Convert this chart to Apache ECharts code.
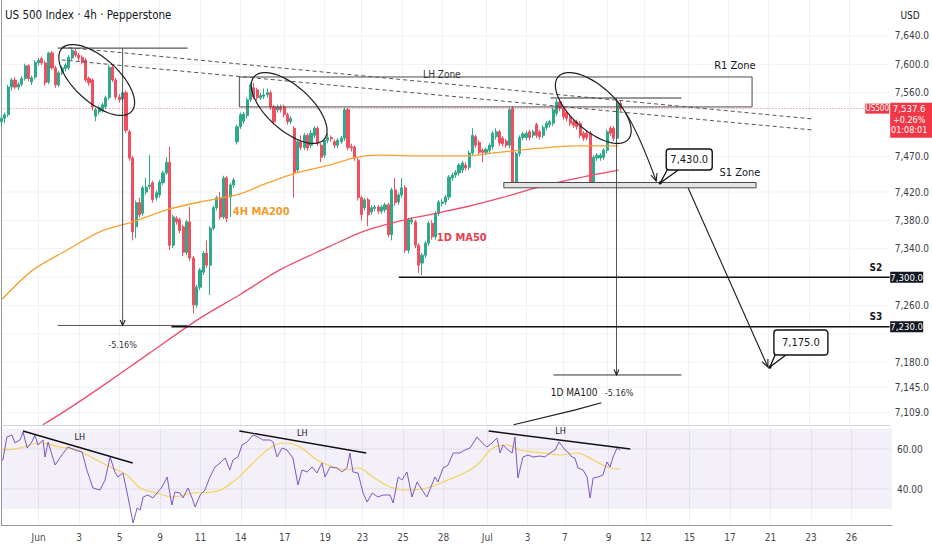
<!DOCTYPE html>
<html><head><meta charset="utf-8">
<script src="https://cdn.jsdelivr.net/npm/echarts@6/dist/echarts.min.js"></script>
<style>html,body{margin:0;padding:0;background:#fff}#c{width:932px;height:550px}</style>
</head><body><div id="c"></div>
<script>
const FONT = '"Liberation Sans Narrow","DejaVu Sans Condensed","Liberation Sans",Arial,sans-serif';

// ---------- DATA ----------
const titleText = 'US 500 Index · 4h · Pepperstone';
const currency = 'USD';
const symbolTag = 'US500';
const lastPrice = 7537.6;
const changePct = '+0.26%';
const countdown = '01:08:01';
const slotCount = 265; // bar slots shown on the time axis (incl. empty future space)

// 4h candles: [open, close, low, high]
const candles = [
[7519,7524,7512,7527],[7524,7529,7517,7532],[7529,7568,7526,7571],[7568,7578,7563,7581],[7578,7568,7565,7582],
[7568,7572,7564,7575],[7572,7580,7569,7583],[7580,7598,7577,7601],[7598,7580,7576,7600],[7575,7581,7571,7584],
[7582,7603,7579,7606],[7602,7606,7598,7609],[7608,7602,7599,7611],[7602,7574,7570,7605],[7575,7616,7572,7618],
[7616,7595,7592,7619],[7595,7571,7567,7598],[7571,7588,7568,7591],[7588,7595,7585,7598],[7594,7599,7590,7602],
[7595,7610,7592,7613],[7609,7620,7606,7623],[7618,7613,7610,7622],[7613,7609,7605,7616],[7610,7603,7600,7613],
[7606,7578,7575,7609],[7580,7574,7570,7583],[7578,7540,7535,7580],[7527,7536,7520,7539],[7533,7539,7529,7542],
[7536,7543,7532,7546],[7540,7553,7537,7556],[7553,7596,7550,7599],[7596,7578,7575,7599],[7578,7554,7550,7581],
[7554,7550,7546,7558],[7551,7560,7547,7563],[7560,7507,7503,7563],[7505,7468,7464,7508],[7468,7364,7352,7471],
[7371,7405,7355,7408],[7405,7388,7384,7412],[7390,7426,7386,7429],[7420,7427,7416,7440],[7428,7430,7424,7472],
[7433,7409,7405,7436],[7412,7419,7408,7422],[7416,7434,7412,7437],[7433,7447,7430,7450],[7447,7462,7444,7469],
[7462,7345,7338,7484],[7345,7385,7341,7388],[7383,7378,7374,7386],[7381,7366,7362,7384],[7371,7335,7330,7374],
[7335,7378,7331,7381],[7378,7327,7323,7399],[7327,7261,7249,7330],[7261,7286,7257,7289],[7286,7310,7282,7313],
[7307,7334,7303,7337],[7334,7317,7313,7352],[7317,7369,7275,7372],[7369,7398,7366,7401],[7398,7412,7394,7415],
[7412,7385,7381,7420],[7385,7440,7382,7443],[7440,7383,7378,7443],[7413,7430,7385,7433],[7430,7437,7426,7440],
[7491,7512,7487,7515],[7512,7529,7509,7532],[7520,7530,7516,7533],[7528,7550,7524,7553],[7550,7571,7547,7574],
[7567,7554,7551,7574],[7564,7553,7549,7567],[7553,7556,7550,7560],[7555,7557,7551,7566],[7557,7560,7553,7566],
[7560,7540,7536,7563],[7540,7519,7515,7543],[7536,7540,7532,7543],[7540,7536,7532,7543],[7540,7529,7525,7543],
[7529,7519,7515,7532],[7519,7524,7516,7527],[7510,7448,7412,7513],[7451,7491,7447,7494],[7491,7483,7479,7500],
[7483,7500,7479,7503],[7500,7482,7478,7503],[7486,7503,7482,7507],[7500,7510,7496,7513],[7510,7489,7485,7513],
[7486,7469,7462,7489],[7472,7493,7468,7496],[7493,7497,7489,7503],[7497,7495,7491,7500],[7491,7486,7482,7494],
[7486,7493,7482,7496],[7491,7496,7488,7499],[7496,7536,7492,7539],[7536,7483,7479,7539],[7484,7482,7477,7488],
[7483,7468,7464,7486],[7465,7412,7408,7468],[7412,7388,7380,7415],[7398,7409,7394,7412],[7409,7388,7372,7412],
[7392,7398,7388,7401],[7397,7399,7393,7402],[7399,7393,7389,7402],[7393,7399,7389,7402],[7395,7402,7391,7405],
[7402,7360,7356,7405],[7360,7423,7352,7426],[7423,7405,7401,7440],[7406,7416,7402,7419],[7416,7426,7412,7440],
[7426,7338,7334,7430],[7338,7381,7334,7384],[7378,7381,7374,7385],[7378,7345,7341,7381],[7345,7317,7306,7348],
[7320,7331,7303,7334],[7331,7348,7327,7351],[7348,7376,7344,7379],[7376,7357,7353,7380],[7357,7390,7353,7393],
[7390,7406,7386,7409],[7404,7406,7400,7410],[7406,7413,7402,7416],[7413,7441,7409,7444],[7440,7444,7436,7447],
[7444,7448,7440,7451],[7447,7458,7443,7461],[7451,7461,7447,7464],[7458,7454,7450,7462],[7455,7475,7451,7478],
[7475,7500,7471,7510],[7498,7486,7482,7501],[7490,7476,7472,7493],[7479,7476,7462,7482],[7476,7480,7472,7483],
[7479,7486,7475,7489],[7484,7503,7480,7506],[7498,7505,7494,7510],[7505,7489,7485,7508],[7496,7488,7484,7499],
[7492,7486,7482,7495],[7486,7536,7482,7539],[7538,7430,7427,7541],[7430,7474,7427,7477],[7474,7497,7470,7500],
[7497,7502,7493,7505],[7497,7503,7493,7506],[7505,7497,7493,7508],[7500,7505,7496,7508],[7515,7500,7496,7518],
[7505,7498,7494,7508],[7500,7511,7496,7514],[7511,7517,7507,7520],[7515,7519,7511,7522],[7517,7536,7513,7539],
[7531,7547,7527,7551],[7547,7538,7534,7550],[7538,7526,7522,7541],[7532,7524,7520,7535],[7526,7517,7513,7529],
[7519,7514,7510,7522],[7519,7512,7508,7522],[7517,7500,7496,7520],[7503,7496,7492,7506],[7503,7497,7493,7506],
[7503,7430,7426,7506],[7430,7469,7426,7472],[7468,7472,7464,7475],[7468,7472,7464,7475],[7469,7479,7465,7482],
[7479,7505,7475,7508],[7510,7503,7499,7513],[7510,7496,7492,7513],[7496,7547,7492,7550],[7545,7537.6,7534,7548]
];

// moving averages: [bar index, price]
const ma200_4h = [[0,7268],[9.3,7310],[19.4,7338],[29.2,7364],[39,7378],[49.1,7395],[58.9,7406],[70.7,7417],[77.5,7430],[87.6,7447],[97.4,7458],[105.4,7469],[112.2,7472],[127,7471],[138.9,7471],[145.7,7475],[160.5,7482],[170.6,7485],[183.4,7485]];
const ma50_1d = [[12.3,7092],[19.4,7113],[29.2,7144],[44,7193],[58.9,7242],[70.7,7275],[82.6,7310],[97.4,7343],[107.2,7364],[117.3,7378],[127,7388],[138.9,7400],[148.7,7412],[159.6,7427],[171.5,7440],[183.4,7451]];
const ma100_1d = [[152.2,7092],[170.6,7113],[178.3,7123]];

// RSI(14) and its moving average: [bar index, value]
const rsi = [[0,54.5],[0.4,54.5],[1.6,66],[3.1,67],[4,63],[5.5,64.5],[6.4,68.5],[7.6,60.5],[9,63.5],[9.9,67],[10.8,62],[12.3,64.5],[12.9,56],[13.8,63.5],[15.9,52],[17.9,57],[19.7,61],[21.8,59.5],[23.9,58.5],[25.3,49.5],[27.1,40.5],[29.2,39.5],[30.7,44.5],[32.2,56],[33.6,48.5],[34.5,46],[36,48],[37.5,36],[39,23],[40.2,30.5],[41.1,29.5],[42,36],[43.4,37],[44.9,35.5],[46.1,38],[47.6,41],[49.1,46],[50.5,32],[51.4,38.5],[52.9,38],[53.8,35.5],[55.3,40.5],[56.5,35.5],[57.4,31],[58.9,37],[60.3,39.5],[61.8,46],[63.3,51],[64.8,53],[66.3,55.5],[67.7,49.5],[68.6,54.5],[70.1,56],[71.3,62],[72.8,63.5],[74.6,67],[76.1,66],[77.5,64.5],[79.6,64.5],[80.5,63.5],[81.7,56],[83.2,60.5],[84.6,59.5],[86.4,55.5],[87.9,42],[89.1,49.5],[90.6,48.5],[92.1,51],[93.5,48],[95,53],[95.9,46],[97.4,51],[99.5,50.5],[100.9,48.5],[102.4,50.5],[103.3,58],[104.2,48.5],[105.7,48],[107.2,38],[108.4,33.5],[109.9,38],[111.6,36],[113.1,37],[115.2,37],[116.1,33],[117.6,46],[118.7,44.5],[120.2,48.5],[121.7,36],[123.2,43.5],[124.7,39.5],[126.1,36],[128.5,46],[129.4,43.5],[130.9,50.5],[132.4,52],[133.9,58],[135.9,58],[137.4,59.5],[138.9,60.5],[141,66],[142.5,63],[143.9,61],[145.4,63],[146.9,65.5],[147.8,58],[148.7,62],[150.2,59.5],[151.4,58],[152.2,66],[153.1,45.5],[154.6,56],[156.1,57],[157.6,56],[159.6,56.5],[161.1,56],[162.6,58],[164.1,59.5],[165.3,63.5],[167.1,59.5],[167.9,58.5],[169.1,56],[170,55.5],[170.9,50.5],[172.4,49.5],[173.6,46],[174.5,35.5],[175.4,45.5],[176.9,46],[178.3,47],[179.5,53.5],[180.4,51],[181.3,56],[182.5,60.5],[183.4,59.5]];
const rsiMa = [[0,59.5],[5.5,60.5],[11.4,63],[17.3,61],[22.4,59.5],[27.1,55.5],[32.2,51],[37.2,47],[41.1,40.5],[46.1,38],[50.8,36],[56.8,38],[62.7,38.5],[68.6,43.5],[74.6,53],[79.6,60.5],[83.5,63],[88.5,61],[93.5,54.5],[98.3,51],[102.4,49.5],[105.7,50.5],[110.1,46],[115.2,41],[120.2,39.5],[126.1,40.5],[130.9,43.5],[135.9,47],[141,52],[145.7,60.5],[149.9,62],[153.7,59.5],[160.5,58],[165.6,57],[170.6,58],[175.4,54.5],[179.5,51],[183.4,50]];
const rsiBand = [30, 70];

// axis labels
const dateTickSlots = [11,23,35,47,59,71,84,96,107,119,131,144,156,167,179.5,190.5,204,216,228,240,252];
const dateTickText  = ['Jun','3','5','9','11','14','17','19','23','25','28','Jul','3','7','9','12','15','17','21','23','26'];
const priceTicks = [7640,7600,7560,7470,7420,7380,7340,7260,7180,7145,7109];
const gridPrices = [7640,7600,7560,7470,7420,7380,7340,7300,7260,7220,7180,7145,7109];
const rsiTicks = [60, 40];

// drawn levels
const S2 = 7300, S3 = 7230, S1 = 7430, target = 7175;

// ---------- CHART ----------
const labelAt = {};
dateTickSlots.forEach((s, k) => { labelAt[Math.round(s)] = dateTickText[k]; });
const cats = Array.from({length: slotCount}, (_, i) => String(i));
const isTick = (i) => labelAt[i] !== undefined;
const fmt = v => Number(v).toFixed(1).replace(/\B(?=(\d{3})+(?!\d))/g, ',');

const chart = echarts.init(document.getElementById('c'), null, {renderer: 'svg', width: 932, height: 550});
const GL = 1.5, GR = 40;
const option = {
  animation: false,
  backgroundColor: '#ffffff',
  textStyle: {fontFamily: FONT},
  grid: [
    {left: GL, right: GR, top: 0, height: 425},
    {left: GL, right: GR, top: 425, height: 100}
  ],
  xAxis: [
    {type: 'category', gridIndex: 0, data: cats, boundaryGap: false,
     axisLine: {show: true, lineStyle: {color: '#d1d4dc'}}, axisTick: {show: false}, axisLabel: {show: false},
     splitLine: {show: true, interval: isTick, lineStyle: {color: '#eff1f4', width: 1}}},
    {type: 'category', gridIndex: 1, data: cats, boundaryGap: false,
     axisLine: {show: true, lineStyle: {color: '#9598a1'}}, axisTick: {show: false},
     axisLabel: {show: true, interval: isTick, formatter: (v, i) => labelAt[i] || '', color: '#4a4a4a', fontSize: 10, margin: 7, fontFamily: FONT},
     splitLine: {show: true, interval: isTick, lineStyle: {color: '#eff1f4', width: 1}}},
    {type: 'value', gridIndex: 0, min: 0, max: slotCount - 1, show: false},
    {type: 'value', gridIndex: 1, min: 0, max: slotCount - 1, show: false}
  ],
  yAxis: [
    {type: 'value', gridIndex: 0, position: 'right', min: 7091.7, max: 7690.7,
     axisLine: {show: true, lineStyle: {color: '#9598a1'}}, axisTick: {show: false}, splitLine: {show: false},
     axisLabel: {customValues: priceTicks, formatter: fmt, color: '#3a3d45', fontSize: 10, margin: 5, fontFamily: FONT}},
    {type: 'value', gridIndex: 1, position: 'right', min: 22, max: 72,
     axisLine: {show: true, lineStyle: {color: '#9598a1'}}, axisTick: {show: false}, splitLine: {show: false},
     axisLabel: {customValues: rsiTicks, formatter: v => Number(v).toFixed(2), color: '#3a3d45', fontSize: 10, margin: 5, fontFamily: FONT}}
  ],
  series: [
    {type: 'candlestick', name: 'US500', xAxisIndex: 0, yAxisIndex: 0, data: candles, barWidth: 2.6,
     itemStyle: {color: '#2fa98c', color0: '#ef4f5f', borderColor: '#2fa98c', borderColor0: '#ef4f5f', borderWidth: 1}, z: 3},
    {type: 'line', name: '4H MA200', xAxisIndex: 2, yAxisIndex: 0, data: ma200_4h, showSymbol: false, smooth: 0.3,
     lineStyle: {color: '#f7a132', width: 1.3}, z: 4},
    {type: 'line', name: '1D MA50', xAxisIndex: 2, yAxisIndex: 0, data: ma50_1d, showSymbol: false, smooth: 0.3,
     lineStyle: {color: '#ee4d6a', width: 1.3}, z: 4},
    {type: 'line', name: '1D MA100', xAxisIndex: 2, yAxisIndex: 0, data: ma100_1d, showSymbol: false,
     lineStyle: {color: '#1e1e1e', width: 1.2}, z: 4},
    {type: 'line', name: 'RSI', xAxisIndex: 3, yAxisIndex: 1, data: rsi, showSymbol: false,
     lineStyle: {color: '#7e57c2', width: 1}, z: 4,
     markArea: {silent: true, itemStyle: {color: 'rgba(126,87,194,0.09)'}, data: [[{yAxis: rsiBand[0]}, {yAxis: rsiBand[1]}]]}},
    {type: 'line', name: 'RSI MA', xAxisIndex: 3, yAxisIndex: 1, data: rsiMa, showSymbol: false, smooth: 0.4,
     lineStyle: {color: '#f3d35a', width: 1.2}, z: 3}
  ]
};
chart.setOption(option);

function buildGraphics() {
  const g = [];
  const X = i => chart.convertToPixel({xAxisIndex: 2}, i);
  const Y = p => chart.convertToPixel({yAxisIndex: 0}, p);
  const RY = v => chart.convertToPixel({yAxisIndex: 1}, v);
  const xL = X(0), xR = X(slotCount - 1);
  const L = (x1, y1, x2, y2, stroke, w, dash, z) => g.push({type: 'line', silent: true, z: z === undefined ? 100 : z,
    shape: {x1, y1, x2, y2}, style: {stroke, lineWidth: w || 1, lineDash: dash || null}});
  const T = (text, x, y, o) => { o = o || {}; g.push({type: 'text', silent: true, z: 120, x, y,
    style: {text, fill: o.color || '#131722', font: (o.weight || 'normal') + ' ' + (o.size || 11) + 'px ' + FONT,
      align: o.align || 'center', verticalAlign: 'middle', textAlign: o.align || 'center', textVerticalAlign: 'middle'}}); };
  const head = (fx, fy, tx, ty, len) => { const a = Math.atan2(ty - fy, tx - fx), s = 0.42; len = len || 8;
    g.push({type: 'polyline', silent: true, z: 100, shape: {points: [[tx - len * Math.cos(a - s), ty - len * Math.sin(a - s)], [tx, ty], [tx - len * Math.cos(a + s), ty - len * Math.sin(a + s)]]},
      style: {stroke: '#1a1a1a', lineWidth: 1.1, fill: null}}); };
  const ellipse = (ci, cp, a, b, deg) => { const th = deg * Math.PI / 180, cx = X(ci), cy = Y(cp), pts = [];
    for (let k = 0; k <= 72; k++) { const t = k / 72 * 2 * Math.PI;
      pts.push([cx + a * Math.cos(t) * Math.cos(th) - b * Math.sin(t) * Math.sin(th), cy + a * Math.cos(t) * Math.sin(th) + b * Math.sin(t) * Math.cos(th)]); }
    g.push({type: 'polyline', silent: true, z: 100, shape: {points: pts}, style: {stroke: '#1f1f1f', lineWidth: 1.2, fill: null}}); };

  // horizontal grid lines
  gridPrices.forEach(p => L(xL, Y(p), xR, Y(p), '#eff1f4', 1, null, 0));
  rsiTicks.forEach(v => L(xL, RY(v), xR, RY(v), '#e9e9ef', 1, null, 0));

  // last price dotted line
  L(xL, Y(lastPrice), xR, Y(lastPrice), 'rgba(242,54,69,0.7)', 1, [1, 2], 5);

  // trend (dashed) lines
  L(X(17.9), Y(7624.5), X(241.2), Y(7523), '#555', 1, [4, 3]);
  L(X(17.9), Y(7606.2), X(241.2), Y(7507.5), '#555', 1, [4, 3]);

  // LH / R1 zone rectangle
  g.push({type: 'rect', silent: true, z: 99, shape: {x: X(70.7), y: Y(7582.2), width: X(223.1) - X(70.7), height: Y(7540) - Y(7582.2)},
    style: {fill: 'rgba(0,0,0,0)', stroke: '#4a4a4a', lineWidth: 1}});
  // S1 zone
  g.push({type: 'rect', silent: true, z: 99, shape: {x: X(149.3), y: Y(7433.5), width: X(224.3) - X(149.3), height: Y(7426) - Y(7433.5)},
    style: {fill: '#e4e4e4', stroke: '#4a4a4a', lineWidth: 1}});

  // measure tool 1
  L(X(16.7), Y(7623), X(55.3), Y(7623), '#555', 1.2);
  L(X(16.7), Y(S3 + 2), X(55.3), Y(S3 + 2), '#555', 1);
  L(X(36), Y(7623), X(36), Y(S3 + 2), '#555', 1);
  head(X(36), Y(7300), X(36), Y(S3 + 2), 6);
  T('-5.16%', X(36), Y(7204), {size: 9, color: '#333'});
  // measure tool 2
  L(X(163.2), Y(7552.6), X(202.1), Y(7552.6), '#333', 1.2);
  L(X(164.1), Y(7162.2), X(202.1), Y(7162.2), '#333', 1);
  L(X(182.8), Y(7552.6), X(182.8), Y(7162.2), '#555', 1);
  head(X(182.8), Y(7250), X(182.8), Y(7162.2), 6);
  T('1D MA100', X(170.2), Y(7137), {size: 10, color: '#1a1a1a'});
  T('-5.16%', X(183.6), Y(7137), {size: 9, color: '#333'});

  // S2 / S3 lines
  L(X(118.1), Y(S2), xR, Y(S2), '#111', 1.5);
  L(X(50.5), Y(S3), xR, Y(S3), '#111', 1.5);
  T('S2', X(259.9), Y(7314), {size: 10, weight: 'bold'});
  T('S3', X(259.9), Y(7245), {size: 10, weight: 'bold'});

  // ellipses
  ellipse(28.3, 7578, 47, 22, 42);
  ellipse(85.5, 7538.5, 47, 22, 42);
  ellipse(175.9, 7538.5, 47, 22, 42);

  // projection arrows
  const a1 = [X(185.4), Y(7532.9)], a1e = [X(194.6), Y(7435.6)];
  g.push({type: 'bezierCurve', silent: true, z: 100, shape: {x1: a1[0], y1: a1[1], x2: a1e[0], y2: a1e[1], cpx1: a1[0] + 14, cpy1: a1[1] + 22},
    style: {stroke: '#1a1a1a', lineWidth: 1.1, fill: null}});
  head(a1[0] + 20, a1[1] + 35, a1e[0], a1e[1], 8);
  const b1 = [X(204.1), Y(7425.7)], b1e = [X(227.8), Y(7173.4)];
  L(b1[0], b1[1], b1e[0], b1e[1], '#1a1a1a', 1.1);
  head(b1[0], b1[1], b1e[0], b1e[1], 8);

  // callouts
  const callout = (i, p, text, dx, dy, w, h) => { const tx = X(i), ty = Y(p), bx = tx + dx, by = ty + dy;
    g.push({type: 'polyline', silent: true, z: 110, shape: {points: [[bx + 2, by + h - 2], [tx, ty], [bx + 12, by + h]]}, style: {stroke: '#111', lineWidth: 1.3, fill: '#fff'}});
    g.push({type: 'rect', silent: true, z: 111, shape: {x: bx, y: by, width: w, height: h, r: 3}, style: {fill: '#fff', stroke: '#111', lineWidth: 1.4}});
    g.push({type: 'circle', silent: true, z: 112, shape: {cx: tx, cy: ty, r: 1.6}, style: {fill: '#111'}});
    T(text, bx + w / 2, by + h / 2, {size: 11}); };
  callout(195.8, S1 + 2.8, fmt(S1), 6, -34, 46, 21);
  callout(228.4, target - 1.6, fmt(target), 4, -37, 54, 25);

  // labels
  T('LH Zone', X(130.9), Y(7586.4), {size: 10, color: '#333'});
  T('R1 Zone', X(218), Y(7597.7), {size: 11});
  T('S1 Zone', X(219.5), Y(7446.9), {size: 11});
  T('4H MA200', X(77.2), Y(7392), {size: 11, color: '#f29b2a', weight: 'bold'});
  T('1D MA50', X(136.8), Y(7355.3), {size: 11, color: '#e5404f', weight: 'bold'});

  // RSI lower-high lines
  L(X(6.4), RY(69), X(39), RY(53), '#111', 1.4);
  L(X(70.7), RY(69), X(108.4), RY(58), '#111', 1.4);
  L(X(144.8), RY(69), X(186.9), RY(60), '#111', 1.4);
  T('LH', X(23.3), RY(65.8), {size: 9, color: '#222'});
  T('LH', X(89.4), RY(68), {size: 9, color: '#222'});
  T('LH', X(166.2), RY(69.2), {size: 9, color: '#222'});

  // title & currency
  T(titleText, 5, 15, {size: 11.5, align: 'left', color: '#131722'});
  T(currency, 910, 15, {size: 10, color: '#131722'});

  // right-axis price tags
  const yl = Y(lastPrice), ax = xR + 0.5;
  g.push({type: 'rect', silent: true, z: 115, shape: {x: ax, y: yl - 6, width: 932 - ax, height: 35}, style: {fill: '#f23645'}});
  T(fmt(lastPrice), ax + 19, yl, {size: 9.5, color: '#fff'});
  T(changePct, ax + 19, yl + 11, {size: 9, color: '#fff'});
  T(countdown, ax + 19, yl + 21.5, {size: 9, color: '#fff'});
  g.push({type: 'rect', silent: true, z: 115, shape: {x: ax - 25, y: yl - 5, width: 24, height: 10}, style: {fill: '#f23645'}});
  T(symbolTag, ax - 13, yl, {size: 8, color: '#fff'});
  [S2, S3].forEach(p => { const yy = Y(p);
    g.push({type: 'rect', silent: true, z: 115, shape: {x: ax, y: yy - 5.5, width: 33, height: 11}, style: {fill: '#131722'}});
    T(fmt(p), ax + 16.5, yy, {size: 9.5, color: '#fff'}); });

  return g;
}
chart.setOption({graphic: {elements: buildGraphics()}});
</script>
</body></html>
